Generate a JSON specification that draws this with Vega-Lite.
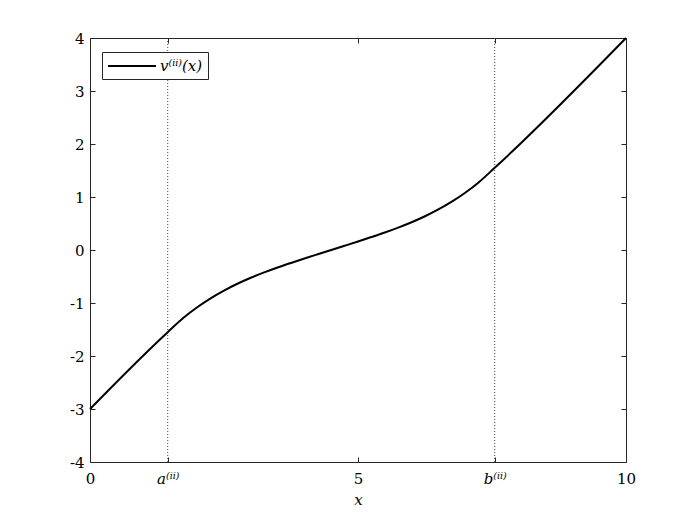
{
  "$schema": "https://vega.github.io/schema/vega-lite/v6.json",
  "width": 536,
  "height": 424,
  "autosize": {"type": "none"},
  "padding": {"left": 90, "top": 38, "right": 66, "bottom": 57},
  "background": "white",
  "config": {
    "view": {"stroke": null},
    "font": "DejaVu Serif",
    "axis": {
      "domainColor": "#262626",
      "tickColor": "#262626",
      "labelColor": "#000000",
      "titleColor": "#000000",
      "labelFont": "DejaVu Serif",
      "titleFont": "DejaVu Serif",
      "labelFontSize": 15,
      "titleFontSize": 15,
      "titleFontWeight": "normal",
      "labelFlush": false,
      "labelOverlap": false,
      "grid": false,
      "tickSize": -5,
      "domainWidth": 1,
      "tickWidth": 1
    }
  },
  "datasets": {
    "curve": [
      {"x": 0, "y": -3, "series": "v⁽ⁱⁱ⁾(x)"},
      {"x": 1.45, "y": -1.55, "series": "v⁽ⁱⁱ⁾(x)"},
      {"x": 1.75, "y": -1.275, "series": "v⁽ⁱⁱ⁾(x)"},
      {"x": 2.0, "y": -1.08, "series": "v⁽ⁱⁱ⁾(x)"},
      {"x": 2.25, "y": -0.911, "series": "v⁽ⁱⁱ⁾(x)"},
      {"x": 2.5, "y": -0.765, "series": "v⁽ⁱⁱ⁾(x)"},
      {"x": 2.75, "y": -0.637, "series": "v⁽ⁱⁱ⁾(x)"},
      {"x": 3.0, "y": -0.524, "series": "v⁽ⁱⁱ⁾(x)"},
      {"x": 3.25, "y": -0.423, "series": "v⁽ⁱⁱ⁾(x)"},
      {"x": 3.5, "y": -0.33, "series": "v⁽ⁱⁱ⁾(x)"},
      {"x": 3.75, "y": -0.244, "series": "v⁽ⁱⁱ⁾(x)"},
      {"x": 4.0, "y": -0.161, "series": "v⁽ⁱⁱ⁾(x)"},
      {"x": 4.25, "y": -0.08, "series": "v⁽ⁱⁱ⁾(x)"},
      {"x": 4.5, "y": 0, "series": "v⁽ⁱⁱ⁾(x)"},
      {"x": 4.75, "y": 0.08, "series": "v⁽ⁱⁱ⁾(x)"},
      {"x": 5.0, "y": 0.161, "series": "v⁽ⁱⁱ⁾(x)"},
      {"x": 5.25, "y": 0.244, "series": "v⁽ⁱⁱ⁾(x)"},
      {"x": 5.5, "y": 0.33, "series": "v⁽ⁱⁱ⁾(x)"},
      {"x": 5.75, "y": 0.423, "series": "v⁽ⁱⁱ⁾(x)"},
      {"x": 6.0, "y": 0.524, "series": "v⁽ⁱⁱ⁾(x)"},
      {"x": 6.25, "y": 0.637, "series": "v⁽ⁱⁱ⁾(x)"},
      {"x": 6.5, "y": 0.765, "series": "v⁽ⁱⁱ⁾(x)"},
      {"x": 6.75, "y": 0.911, "series": "v⁽ⁱⁱ⁾(x)"},
      {"x": 7.0, "y": 1.08, "series": "v⁽ⁱⁱ⁾(x)"},
      {"x": 7.25, "y": 1.275, "series": "v⁽ⁱⁱ⁾(x)"},
      {"x": 7.55, "y": 1.55, "series": "v⁽ⁱⁱ⁾(x)"},
      {"x": 10, "y": 4, "series": "v⁽ⁱⁱ⁾(x)"}
    ],
    "marks": [
      {"x": 1.45, "name": "a"},
      {"x": 7.55, "name": "b"}
    ]
  },
  "resolve": {"axis": {"x": "independent", "y": "independent"}},
  "layer": [
    {
      "data": {"name": "marks"},
      "mark": {"type": "rule", "color": "#444444", "strokeWidth": 1, "strokeDash": [1, 2]},
      "encoding": {
        "x": {"field": "x", "type": "quantitative", "scale": {"domain": [0, 10], "nice": false, "zero": false}, "axis": null}
      }
    },
    {
      "data": {"name": "curve"},
      "mark": {"type": "line", "strokeWidth": 2, "interpolate": "monotone"},
      "encoding": {
        "x": {
          "field": "x", "type": "quantitative",
          "scale": {"domain": [0, 10], "nice": false, "zero": false},
          "axis": {
            "orient": "bottom",
            "values": [0, 1.45, 5, 7.55, 10],
            "labelExpr": "datum.value == 1.45 ? 'a⁽ⁱⁱ⁾' : (datum.value == 7.55 ? 'b⁽ⁱⁱ⁾' : toString(datum.value))",
            "labelFontStyle": {"condition": {"test": "datum.value == 1.45 || datum.value == 7.55", "value": "italic"}, "value": "normal"},
            "labelFont": "DejaVu Serif",
            "labelPadding": 14,
            "title": "x",
            "titleFontStyle": "italic",
            "titleFont": "DejaVu Serif",
            "titlePadding": 6
          }
        },
        "y": {
          "field": "y", "type": "quantitative",
          "scale": {"domain": [-4, 4], "nice": false, "zero": false},
          "axis": {
            "orient": "left",
            "values": [-4, -3, -2, -1, 0, 1, 2, 3, 4],
            "labelExpr": "toString(datum.value)",
            "labelFont": "DejaVu Serif",
            "labelPadding": 11,
            "title": null
          }
        },
        "color": {
          "field": "series", "type": "nominal",
          "scale": {"range": ["#000000"]},
          "legend": {
            "title": null,
            "orient": "none",
            "legendX": 12,
            "legendY": 14,
            "symbolType": "M-1,0H5",
            "symbolSize": 256,
            "symbolStrokeWidth": 2,
            "symbolStrokeColor": "#000000",
            "labelOffset": 35,
            "labelFont": "DejaVu Serif",
            "labelFontSize": 15,
            "labelFontStyle": "italic",
            "labelColor": "#000000",
            "strokeColor": "#262626",
            "fillColor": "white",
            "padding": 5,
            "cornerRadius": 0
          }
        }
      }
    },
    {
      "data": {"name": "curve"},
      "mark": {"type": "point", "opacity": 0},
      "encoding": {
        "x": {
          "field": "x", "type": "quantitative",
          "scale": {"domain": [0, 10], "nice": false, "zero": false},
          "axis": {"orient": "top", "values": [0, 1.45, 5, 7.55, 10], "labels": false, "title": null}
        },
        "y": {
          "field": "y", "type": "quantitative",
          "scale": {"domain": [-4, 4], "nice": false, "zero": false},
          "axis": {"orient": "right", "values": [-4, -3, -2, -1, 0, 1, 2, 3, 4], "labels": false, "title": null}
        }
      }
    }
  ]
}
